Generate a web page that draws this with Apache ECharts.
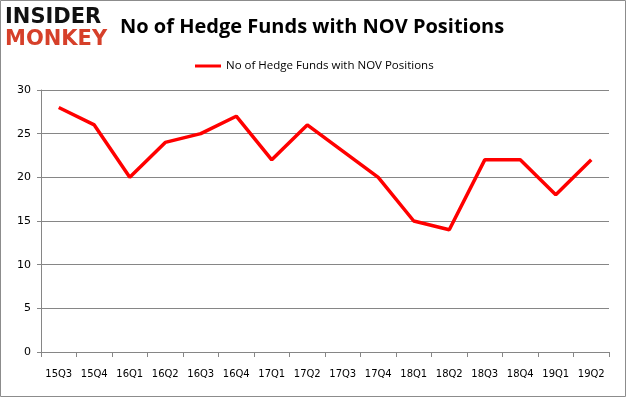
<!DOCTYPE html>
<html>
<head>
<meta charset="utf-8">
<script src="https://cdn.jsdelivr.net/npm/echarts@6/dist/echarts.min.js"></script>
<style>
  html, body {margin: 0; padding: 0; background: #fff;}
  #chart {width: 626px; height: 397px;}
</style>
</head>
<body>
<div id="chart"></div>
<script>
/*季度*/
var quarters = ['15Q3', '15Q4', '16Q1', '16Q2', '16Q3', '16Q4', '17Q1', '17Q2',
  '17Q3', '17Q4', '18Q1', '18Q2', '18Q3', '18Q4', '19Q1', '19Q2'];
/*基金数量*/
var fundCounts = [28, 26, 20, 24, 25, 27, 22, 26, 23, 20, 15, 14, 22, 22, 18, 22];
var seriesName = 'No of Hedge Funds with NOV Positions';
var yTicks = [0, 5, 10, 15, 20, 25, 30];

var chart = echarts.init(document.getElementById('chart'));

var option = {
  animation: false,
  title: {
    text: 'No of Hedge Funds with NOV Positions',
    left: 115,
    top: 12,
    textStyle: {
      fontFamily: 'Open Sans',
      fontWeight: 'bold',
      fontSize: 20,
      color: '#000'
    }
  },
  legend: {
    data: [seriesName],
    top: 55,
    left: 190,
    itemWidth: 26,
    itemHeight: 3,
    icon: 'rect',
    textStyle: {fontFamily: 'Open Sans', fontSize: 11.5, color: '#000'}
  },
  graphic: [
    {
      type: 'rect',
      shape: {x: 0.5, y: 0.5, width: 625, height: 396},
      style: {fill: 'none', stroke: '#8c8c8c', lineWidth: 1}
    },
    {
      type: 'text',
      left: 5, top: 7,
      style: {text: 'INSIDER', font: 'bold 21px "DejaVu Sans"', fill: '#111'}
    },
    {
      type: 'text',
      left: 5, top: 29,
      style: {text: 'MONKEY', font: 'bold 21px "DejaVu Sans"', fill: '#d6402a'}
    }
  ],
  grid: {left: 41, right: 17, top: 90, bottom: 45},
  xAxis: {
    type: 'category',
    data: quarters,
    boundaryGap: true,
    axisLine: {lineStyle: {color: '#868686'}},
    axisTick: {show: true, length: 5, lineStyle: {color: '#868686'}},
    axisLabel: {interval: 0, margin: 17, fontFamily: 'DejaVu Sans', fontSize: 10, color: '#000'}
  },
  yAxis: {
    type: 'value',
    min: yTicks[0],
    max: yTicks[yTicks.length - 1],
    interval: 5,
    axisLine: {show: true, lineStyle: {color: '#868686'}},
    axisTick: {show: true, length: 4, lineStyle: {color: '#868686'}},
    splitLine: {lineStyle: {color: '#868686'}},
    axisLabel: {margin: 10, fontFamily: 'DejaVu Sans', fontSize: 11, color: '#000'}
  },
  series: [
    {
      name: seriesName,
      type: 'line',
      data: fundCounts,
      symbol: 'none',
      lineStyle: {color: '#ff0000', width: 3.5},
      itemStyle: {color: '#ff0000'}
    }
  ]
};

chart.setOption(option);
</script>
</body>
</html>
